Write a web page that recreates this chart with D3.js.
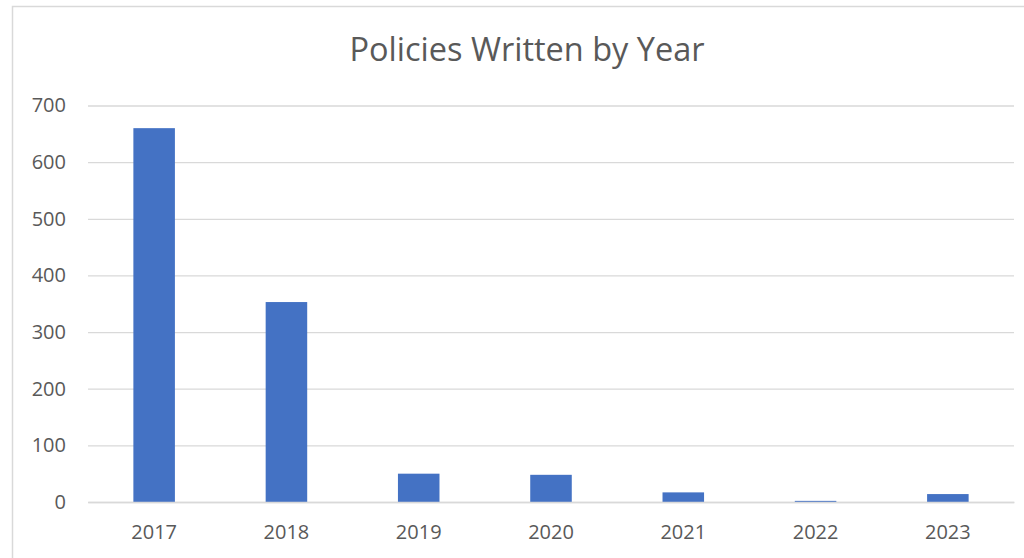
<!DOCTYPE html>
<html>
<head>
<meta charset="utf-8">
<script src="https://cdn.jsdelivr.net/npm/d3@7"></script>
<style>
  body { margin: 0; background: #fff; }
  svg { display: block; font-family: "Open Sans", sans-serif; }
</style>
</head>
<body>
<div class="chart"></div>
<script>
// data
const years = ['2017', '2018', '2019', '2020', '2021', '2022', '2023'];
const policies = [660, 353, 50, 48, 17, 2, 14];
const yTicks = [0, 100, 200, 300, 400, 500, 600, 700];
const chartTitle = 'Policies Written by Year';

const svg_width = 1024;
const svg_height = 558;
const margin = {top: 105.5, right: 10, bottom: 56, left: 88};
const chart_width = svg_width - margin.left - margin.right;
const chart_height = svg_height - margin.top - margin.bottom;
const fontFamily = '"Open Sans", sans-serif';

const svg = d3.select('.chart').append('svg')
    .attr('width', svg_width)
    .attr('height', svg_height);

// chart area border (cut off on the right and bottom)
svg.append('rect')
    .attr('x', 12.5).attr('y', 6.5)
    .attr('width', 1100).attr('height', 700)
    .attr('fill', 'none')
    .attr('stroke', '#d9d9d9')
    .attr('stroke-width', 1.5);

const g = svg.append('g').attr('transform', `translate(${margin.left},${margin.top})`);

const xScale = d3.scaleBand().domain(years).range([0, chart_width])
    .paddingInner(0.686).paddingOuter(0.343);
const yScale = d3.scaleLinear().domain([0, 700]).range([chart_height, 0]);

// gridlines + y labels
const yAxis = d3.axisLeft(yScale).tickValues(yTicks).tickSize(-chart_width).tickPadding(22);
const yAxisDraw = g.append('g').attr('class', 'y axis').call(yAxis)
    .attr('font-family', fontFamily).attr('font-size', 20);
yAxisDraw.select('.domain').remove();
yAxisDraw.selectAll('line').attr('stroke', '#d9d9d9').attr('stroke-width', 1.3);
yAxisDraw.selectAll('text').attr('fill', '#595959');

// bars
g.append('g').attr('class', 'bars')
  .selectAll('.bar').data(years.map((y, i) => ({year: y, value: policies[i]})))
  .join('rect')
    .attr('class', 'bar')
    .attr('x', d => xScale(d.year))
    .attr('y', d => yScale(d.value))
    .attr('width', xScale.bandwidth())
    .attr('height', d => chart_height - yScale(d.value))
    .attr('fill', '#4472c4');

// x axis
const xAxis = d3.axisBottom(xScale).tickSize(0).tickPadding(23);
const xAxisDraw = g.append('g').attr('class', 'x axis')
    .attr('transform', `translate(0,${chart_height})`)
    .call(xAxis)
    .attr('font-family', fontFamily).attr('font-size', 20);
xAxisDraw.select('.domain').attr('stroke', '#d9d9d9').attr('stroke-width', 1.3);
xAxisDraw.selectAll('text').attr('fill', '#595959');

// title
svg.append('text')
    .attr('x', 527)
    .attr('y', 61)
    .attr('text-anchor', 'middle')
    .attr('fill', '#595959')
    .attr('font-family', fontFamily)
    .style('font-size', '32.5px')
    .text(chartTitle);
</script>
</body>
</html>
